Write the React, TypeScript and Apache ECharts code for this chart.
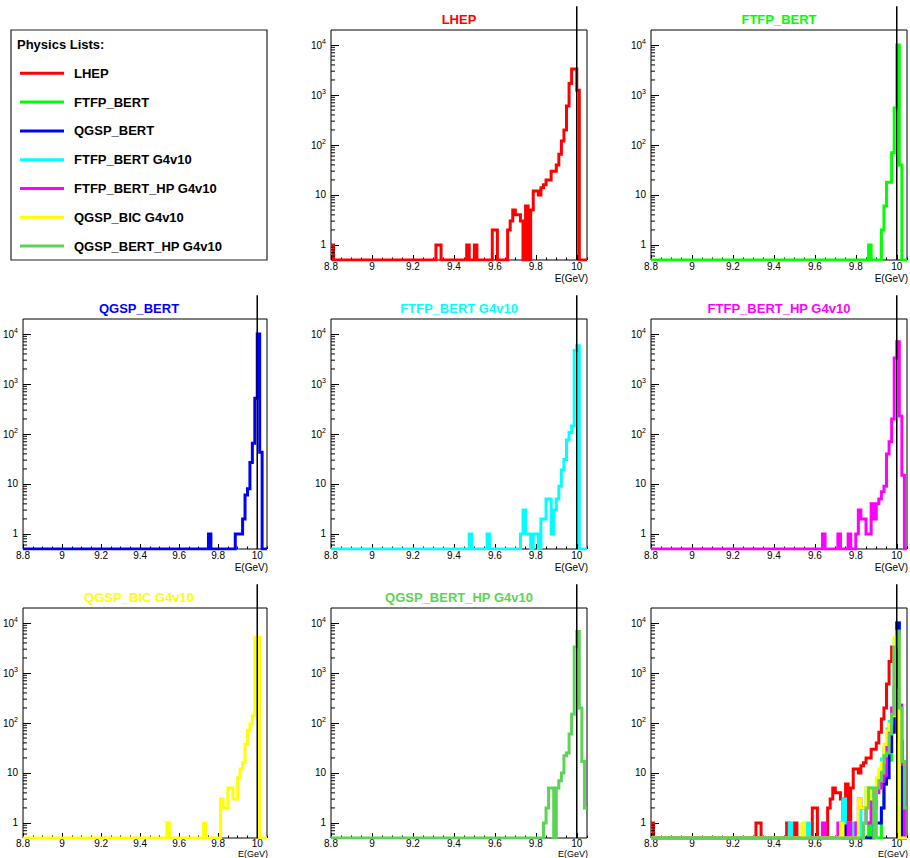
import React, { useEffect, useRef } from "react";
import * as echarts from "echarts";

// ---- axis / binning ----
const X_MIN = 8.8;
const X_MAX = 10.05;
const BIN_WIDTH = 0.0125;
const N_BINS = 100;
const Y_MIN = 0.5;
const Y_MAX = 20000;
const BEAM_E = 10;
const BEAM_LINE_TOP = 60000;
const X_MAJOR = 0.2;
const X_MINOR = 0.05;
const Y_MINOR_TICKS = [
  0.6, 0.7, 0.8, 0.9,
  2, 3, 4, 5, 6, 7, 8, 9,
  20, 30, 40, 50, 60, 70, 80, 90,
  200, 300, 400, 500, 600, 700, 800, 900,
  2000, 3000, 4000, 5000, 6000, 7000, 8000, 9000,
];
const X_AXIS_TITLE = "E(GeV)";
const LEGEND_TITLE = "Physics Lists:";

// ---- physics lists ----
const NAMES = [
  "LHEP",
  "FTFP_BERT",
  "QGSP_BERT",
  "FTFP_BERT G4v10",
  "FTFP_BERT_HP G4v10",
  "QGSP_BIC G4v10",
  "QGSP_BERT_HP G4v10",
];
const COLORS = ["#ff0000", "#00ff00", "#0000ff", "#00ffff", "#ff00ff", "#ffff00", "#59d454"];

// ---- histogram contents (non-empty bins: bin index, entries) ----
const LHEP_BINS = [0, 41, 42, 53, 56, 63, 64, 69, 70, 71, 72, 73, 74, 76, 78, 79, 80, 81, 82, 83, 84, 85, 86, 87, 88, 89, 90, 91, 92, 93, 94, 95, 96];
const LHEP_COUNTS = [1, 1, 1, 1, 1, 2, 2, 2, 3, 5, 4, 4, 3, 6, 5, 12, 12, 10, 14, 16, 20, 20, 30, 30, 40, 65, 120, 200, 600, 1700, 3300, 3300, 1250];

const FTFP_BERT_BINS = [85, 90, 91, 92, 93, 94, 95, 96, 97];
const FTFP_BERT_COUNTS = [1, 2, 6, 18, 18, 70, 550, 10000, 40];

const QGSP_BERT_BINS = [76, 87, 88, 89, 90, 91, 92, 93, 94, 95, 96, 97];
const QGSP_BERT_COUNTS = [1, 1, 1, 1, 2, 6, 8, 27, 65, 520, 10000, 43];

const FTFP_BERT_G4_BINS = [54, 61, 74, 75, 76, 77, 79, 80, 82, 83, 84, 85, 86, 87, 88, 89, 90, 91, 92, 93, 94, 95, 96];
const FTFP_BERT_G4_COUNTS = [1, 1, 1, 3, 1, 1, 1, 1, 2, 2, 5, 5, 1, 3, 5, 9, 19, 31, 76, 107, 145, 4700, 5800];

const FTFP_BERT_HP_G4_BINS = [67, 73, 77, 80, 81, 82, 83, 84, 85, 86, 87, 88, 89, 90, 91, 92, 93, 94, 95, 96, 97, 98];
const FTFP_BERT_HP_G4_COUNTS = [1, 1, 1, 1, 3, 2, 2, 1, 1, 4, 2, 4, 5, 7, 9, 40, 70, 200, 3300, 7000, 230, 15];

const QGSP_BIC_G4_BINS = [59, 74, 81, 82, 83, 84, 85, 86, 87, 88, 89, 90, 91, 92, 93, 94, 95, 96];
const QGSP_BIC_G4_COUNTS = [1, 1, 3, 2, 2, 5, 5, 3, 3, 8, 12, 16, 37, 72, 96, 140, 5200, 5200];

const QGSP_BERT_HP_G4_BINS = [83, 84, 85, 86, 88, 89, 90, 91, 92, 93, 94, 95, 96, 97, 98, 99];
const QGSP_BERT_HP_G4_COUNTS = [1, 2, 5, 5, 5, 7, 10, 22, 25, 60, 150, 3300, 6800, 200, 17, 2];

const HIST_BINS = [LHEP_BINS, FTFP_BERT_BINS, QGSP_BERT_BINS, FTFP_BERT_G4_BINS, FTFP_BERT_HP_G4_BINS, QGSP_BIC_G4_BINS, QGSP_BERT_HP_G4_BINS];
const HIST_COUNTS = [LHEP_COUNTS, FTFP_BERT_COUNTS, QGSP_BERT_COUNTS, FTFP_BERT_G4_COUNTS, FTFP_BERT_HP_G4_COUNTS, QGSP_BIC_G4_COUNTS, QGSP_BERT_HP_G4_COUNTS];

// ---- layout ----
const FONT = '"Liberation Sans", Arial, Helvetica, sans-serif';
const PAGE_H = 858;
const COL_LEFT = [11, 331, 651];
const ROW_TOP = [30, 319, 608];
const FRAME_W = 256;
const FRAME_H = 230;

const PANELS = [
  { row: 0, col: 1, hists: [0], title: true },
  { row: 0, col: 2, hists: [1], title: true },
  { row: 1, col: 0, hists: [2], title: true },
  { row: 1, col: 1, hists: [3], title: true },
  { row: 1, col: 2, hists: [4], title: true },
  { row: 2, col: 0, hists: [5], title: true },
  { row: 2, col: 1, hists: [6], title: true },
  { row: 2, col: 2, hists: [0, 1, 2, 3, 4, 5, 6], title: false },
];

function histOutline(bins: number[], counts: number[]) {
  const c = new Array(N_BINS).fill(0);
  bins.forEach((b, i) => {
    c[b] = counts[i];
  });
  const pts: number[][] = [];
  for (let i = 0; i < N_BINS; i++) {
    const lo = X_MIN + i * BIN_WIDTH;
    const hi = lo + BIN_WIDTH;
    const v = c[i] > 0 ? c[i] : Y_MIN;
    pts.push([lo, v], [hi, v]);
  }
  return pts;
}

function yLabel(v: number) {
  const e = Math.round(Math.log10(v));
  if (Math.abs(v - Math.pow(10, e)) > 1e-6 * v) return "";
  if (e === 0) return "{b|1}";
  if (e === 1) return "{b|10}";
  return "{b|10}{s|" + e + "}";
}

function buildOption() {
  const grid: any[] = [];
  const xAxis: any[] = [];
  const yAxis: any[] = [];
  const series: any[] = [];
  const graphic: any[] = [];

  // legend box
  graphic.push({
    type: "rect",
    shape: { x: 11, y: 30, width: FRAME_W, height: FRAME_H },
    style: { fill: "none", stroke: "#222", lineWidth: 1.2 },
    silent: true,
  });
  graphic.push({
    type: "text",
    x: 17,
    y: 44,
    style: {
      text: LEGEND_TITLE,
      fontSize: 13,
      fontWeight: "bold",
      fontFamily: FONT,
      fill: "#000",
      align: "left",
      verticalAlign: "middle",
      textAlign: "left",
      textVerticalAlign: "middle",
    },
    silent: true,
  });

  PANELS.forEach((p, gi) => {
    const left = COL_LEFT[p.col];
    const top = ROW_TOP[p.row];
    const lastRow = p.row === 2;
    grid.push({
      left,
      top,
      width: FRAME_W,
      height: FRAME_H,
      show: true,
      borderColor: "#000",
      borderWidth: 1,
      backgroundColor: "transparent",
      containLabel: false,
    });
    xAxis.push({
      gridIndex: gi,
      type: "value",
      position: "bottom",
      min: X_MIN,
      max: X_MAX,
      interval: X_MAJOR,
      axisLine: { show: false },
      splitLine: { show: false },
      axisTick: { show: true, inside: true, length: 5, lineStyle: { color: "#000", width: 1 } },
      axisLabel: {
        show: true,
        showMaxLabel: false,
        margin: lastRow ? 0 : 1,
        fontSize: 10,
        fontFamily: FONT,
        color: "#000",
        formatter: (v: number) => String(Number(v.toFixed(2))),
      },
    });
    xAxis.push({
      gridIndex: gi,
      type: "value",
      position: "bottom",
      min: X_MIN,
      max: X_MAX,
      interval: X_MINOR,
      axisLine: { show: false },
      splitLine: { show: false },
      axisLabel: { show: false },
      axisTick: { show: true, inside: true, length: 2.5, lineStyle: { color: "#000", width: 1 } },
    });
    yAxis.push({
      gridIndex: gi,
      type: "log",
      logBase: 10,
      min: Y_MIN,
      max: Y_MAX,
      axisLine: { show: false },
      splitLine: { show: false },
      minorTick: { show: false },
      axisTick: { show: true, inside: true, length: 8, lineStyle: { color: "#000", width: 1 } },
      axisLabel: {
        show: true,
        showMinLabel: false,
        showMaxLabel: false,
        margin: 5,
        fontSize: 10,
        fontFamily: FONT,
        color: "#000",
        formatter: yLabel,
        rich: {
          b: { fontSize: 10, fontFamily: FONT, color: "#000" },
          s: { fontSize: 7, fontFamily: FONT, color: "#000", verticalAlign: "top", padding: [0, 0, 8, 0] },
        },
      },
    });

    // histograms
    p.hists.forEach((h) => {
      series.push({
        type: "line",
        name: NAMES[h],
        xAxisIndex: 2 * gi,
        yAxisIndex: gi,
        data: histOutline(HIST_BINS[h], HIST_COUNTS[h]),
        showSymbol: false,
        symbol: "none",
        silent: true,
        clip: true,
        z: 2,
        itemStyle: { color: COLORS[h] },
        lineStyle: { color: COLORS[h], width: 3, join: "miter" },
      });
    });

    // minor log ticks on y
    series.push({
      type: "custom",
      name: "yminor" + gi,
      xAxisIndex: 2 * gi,
      yAxisIndex: gi,
      coordinateSystem: "cartesian2d",
      silent: true,
      z: 4,
      data: Y_MINOR_TICKS.map((v) => [X_MIN, v]),
      encode: { x: 0, y: 1 },
      renderItem: (params: any, api: any) => {
        const pt = api.coord([api.value(0), api.value(1)]);
        return {
          type: "line",
          shape: { x1: pt[0], y1: pt[1], x2: pt[0] + 4, y2: pt[1] },
          style: { stroke: "#000", lineWidth: 1 },
        };
      },
    });

    // beam energy line
    series.push({
      type: "line",
      name: "beam" + gi,
      xAxisIndex: 2 * gi,
      yAxisIndex: gi,
      data: [
        [BEAM_E, Y_MIN],
        [BEAM_E, BEAM_LINE_TOP],
      ],
      showSymbol: false,
      symbol: "none",
      silent: true,
      clip: false,
      z: 5,
      lineStyle: { color: "#000", width: 1.5 },
    });

    // x axis title (bottom-right, under the labels)
    graphic.push({
      type: "text",
      x: left + FRAME_W + 1,
      y: lastRow ? PAGE_H : top + FRAME_H + 18,
      style: {
        text: X_AXIS_TITLE,
        fontSize: lastRow ? 9 : 10,
        fontFamily: FONT,
        fill: "#000",
        align: "right",
        verticalAlign: lastRow ? "bottom" : "middle",
        textAlign: "right",
        textVerticalAlign: lastRow ? "bottom" : "middle",
      },
      silent: true,
    });

    if (p.title) {
      const h = p.hists[0];
      graphic.push({
        type: "text",
        x: left + FRAME_W / 2,
        y: top - 11,
        style: {
          text: NAMES[h],
          fontSize: 13,
          fontWeight: "bold",
          fontFamily: FONT,
          fill: COLORS[h],
          align: "center",
          verticalAlign: "middle",
          textAlign: "center",
          textVerticalAlign: "middle",
        },
        silent: true,
      });
    }
  });

  return {
    animation: false,
    backgroundColor: "#ffffff",
    textStyle: { fontFamily: FONT },
    legend: {
      data: NAMES,
      orient: "vertical",
      left: 20,
      top: 66.8,
      padding: 0,
      itemGap: 15.8,
      itemWidth: 44,
      itemHeight: 3,
      icon: "rect",
      selectedMode: false,
      textStyle: {
        fontSize: 13,
        fontWeight: "bold",
        fontFamily: FONT,
        color: "#000",
        padding: [0, 0, 0, 5],
      },
    },
    grid,
    xAxis,
    yAxis,
    series,
    graphic,
  };
}

export default function App() {
  const ref = useRef<HTMLDivElement>(null);
  useEffect(() => {
    if (!ref.current) return;
    const chart = echarts.init(ref.current, undefined, { renderer: "svg" });
    chart.setOption(buildOption() as any);
    return () => {
      chart.dispose();
    };
  }, []);
  return (
    <div
      ref={ref}
      style={{ position: "absolute", left: 0, top: 0, width: 910, height: 858, background: "#fff" }}
    />
  );
}
